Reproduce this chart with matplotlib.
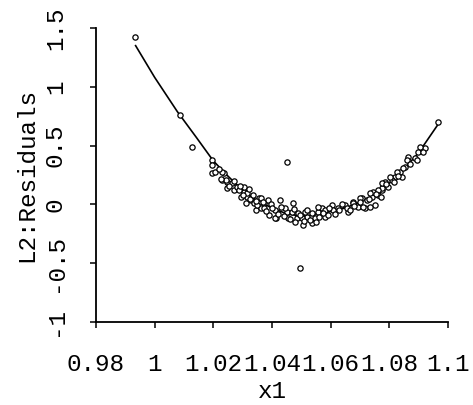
import matplotlib
matplotlib.use('Agg')
import matplotlib.pyplot as plt

plt.rcParams['font.family'] = ['Liberation Mono', 'DejaVu Sans Mono']

# residual points
x1 = [0.9933, 1.0087, 1.0128, 1.0197, 1.0197, 1.0450, 1.0494, 1.0966,
      1.0197, 1.0207, 1.0238, 1.0231, 1.0248, 1.0262, 1.0248, 1.0272, 1.0282,
      1.0306, 1.0316, 1.0330, 1.0340, 1.0357, 1.0347, 1.0364, 1.0313, 1.0296,
      1.0231, 1.0244, 1.0306, 1.0289, 1.0316, 1.0357, 1.0374, 1.0426, 1.0470,
      1.0415, 1.0450, 1.0484, 1.0518, 1.0552, 1.0573, 1.0504, 1.0538,
      1.0364, 1.0385, 1.0350, 1.0374, 1.0409, 1.0443, 1.0467, 1.0487, 1.0511,
      1.0535, 1.0556, 1.0569, 1.0409, 1.0453, 1.0501, 1.0545, 1.0579, 1.0391,
      1.0556, 1.0579, 1.0603, 1.0624, 1.0648, 1.0658, 1.0675, 1.0692, 1.0706,
      1.0723, 1.0740, 1.0750, 1.0761, 1.0774, 1.0744, 1.0716,
      1.0921, 1.0904, 1.0897, 1.0915, 1.0863, 1.0860, 1.0887, 1.0853, 1.0836,
      1.0819, 1.0809, 1.0785, 1.0843, 1.0795, 1.0774, 1.0894, 1.0846, 1.0826,
      1.0802, 1.0774, 1.0761, 1.0733, 1.0699, 1.0675, 1.0733, 1.0655, 1.0607,
      1.0573,
      1.0220, 1.0225, 1.0255, 1.0270, 1.0290, 1.0300, 1.0320, 1.0325, 1.0335,
      1.0345, 1.0370, 1.0380, 1.0395, 1.0400, 1.0420, 1.0430, 1.0440, 1.0460,
      1.0475, 1.0480, 1.0495, 1.0510, 1.0520, 1.0530, 1.0550, 1.0560, 1.0590,
      1.0595, 1.0615, 1.0630, 1.0640, 1.0665, 1.0680, 1.0700, 1.0710, 1.0730,
      1.0755, 1.0770, 1.0790, 1.0815, 1.0830, 1.0870]
resid = [1.420, 0.757, 0.490, 0.380, 0.270, 0.360, -0.540, 0.697,
         0.332, 0.272, 0.264, 0.204, 0.187, 0.179, 0.136, 0.119, 0.145,
         0.102, 0.060, 0.034, 0.009, 0.017, -0.051, -0.034, 0.009, 0.060,
         0.272, 0.204, 0.145, 0.119, 0.094, 0.051, 0.009, 0.034, 0.009,
         -0.119, -0.068, -0.119, -0.111, -0.094, -0.068, -0.179, -0.162,
         0.051, 0.034, -0.009, -0.034, -0.051, -0.034, -0.068, -0.077, -0.068,
         -0.077, -0.068, -0.034, -0.119, -0.119, -0.119, -0.119, -0.111, -0.094,
         -0.026, -0.051, -0.009, -0.034, -0.009, -0.068, 0.017, -0.026, 0.051,
         0.034, 0.060, -0.009, 0.077, 0.119, 0.102, -0.034,
         0.476, 0.485, 0.442, 0.442, 0.400, 0.374, 0.391, 0.315, 0.272,
         0.230, 0.204, 0.187, 0.230, 0.145, 0.136, 0.374, 0.306, 0.272,
         0.230, 0.179, 0.119, 0.094, 0.051, 0.009, -0.026, -0.034, -0.051,
         -0.077,
         0.30, 0.22, 0.16, 0.20, 0.16, 0.08, 0.13, 0.05, 0.08,
         0.03, 0.02, -0.06, 0.00, -0.03, -0.08, -0.02, -0.10, -0.12,
         -0.04, -0.15, -0.09, -0.14, -0.05, -0.13, -0.15, -0.11, -0.09,
         -0.03, -0.08, -0.05, 0.00, -0.05, -0.01, 0.02, -0.02, 0.05,
         0.09, 0.06, 0.17, 0.19, 0.24, 0.34]

# fitted curve
fit_x = [0.9935, 1.000, 1.0077, 1.0142, 1.020, 1.025, 1.030, 1.035, 1.040,
         1.045, 1.050, 1.055, 1.060, 1.065, 1.070, 1.075, 1.080, 1.085,
         1.090, 1.0966]
fit_y = [1.35, 1.08, 0.79, 0.57, 0.37, 0.24, 0.12, 0.03, -0.03,
         -0.08, -0.10, -0.09, -0.06, -0.03, 0.02, 0.08, 0.18, 0.30,
         0.44, 0.68]

xticks = [0.98, 1.0, 1.02, 1.04, 1.06, 1.08, 1.1]
xtick_labels = ['0.98', '1', '1.02', '1.04', '1.06', '1.08', '1.1']
yticks = [-1, -0.5, 0, 0.5, 1, 1.5]
ytick_labels = ['-1', '-0.5', '0', '0.5', '1', '1.5']

fig = plt.figure(figsize=(4.73, 4.05), dpi=100)
ax = fig.add_axes([96 / 473, 1 - 322 / 405, (448 - 96) / 473, (322 - 28) / 405])

ax.plot(fit_x, fit_y, color='black', lw=1.2, zorder=2)
ax.plot(x1, resid, 'o', ms=3.8, mfc='white', mec='black', mew=0.9, zorder=3)

ax.set_xlim(0.98, 1.1)
ax.set_ylim(-1, 1.5)
ax.set_xticks(xticks)
ax.set_xticklabels(xtick_labels)
ax.set_yticks(yticks)
ax.set_yticklabels(ytick_labels, rotation=90, va='center')

ax.spines['top'].set_visible(False)
ax.spines['right'].set_visible(False)
for s in ('left', 'bottom'):
    ax.spines[s].set_linewidth(1.3)
ax.tick_params(direction='out', length=4, width=1.1, labelsize=17.5)
ax.tick_params(axis='x', pad=18)
ax.tick_params(axis='y', pad=17)

ax.set_xlabel('x1', fontsize=17.5, labelpad=3)
ax.set_ylabel('L2:Residuals', fontsize=17.5, labelpad=4)

fig.savefig('out.png', dpi=100)
